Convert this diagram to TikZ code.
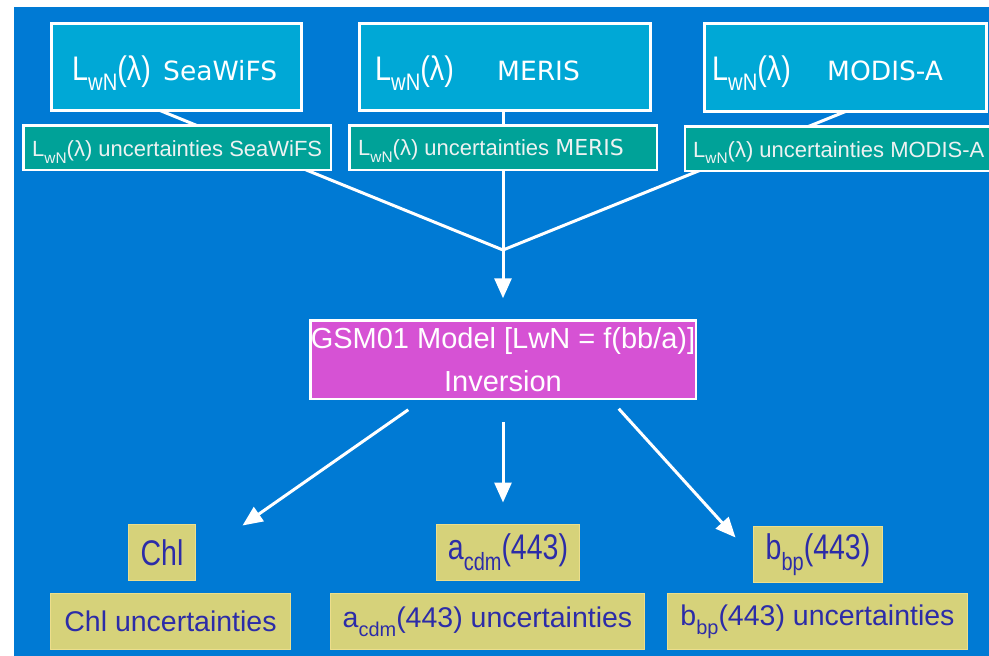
\documentclass[tikz,border=0pt]{standalone}
\usepackage{fontspec}
\usepackage{graphicx}
\setmainfont{Liberation Sans}
\newfontfamily\dvs{DejaVu Sans}
\usetikzlibrary{arrows.meta,calc}
\definecolor{bgblue}{RGB}{0,122,212}
\definecolor{topcyan}{RGB}{0,168,214}
\definecolor{uncteal}{RGB}{0,162,152}
\definecolor{gsmmag}{RGB}{214,82,212}
\definecolor{ybox}{RGB}{214,210,122}
\definecolor{yedge}{RGB}{236,222,140}
\definecolor{ytext}{RGB}{44,44,168}
\definecolor{unctext}{RGB}{238,242,242}
\pgfdeclarelayer{bgl}
\pgfdeclarelayer{lines}
\pgfsetlayers{bgl,lines,main}
\newcommand\sbs[1]{\raisebox{-0.3em}{\scalebox{0.7}{#1}}}
\newcommand\Lwn{L\sbs{wN}(λ)}
\begin{document}
\begin{tikzpicture}[x=1pt,y=-1pt,
  topbox/.style={draw=white,line width=3pt,fill=topcyan,inner sep=0pt,outer sep=0pt},
  uncbox/.style={draw=white,line width=2.5pt,fill=uncteal,inner sep=0pt,outer sep=0pt},
  toptext/.style={text=white,inner sep=0pt,anchor=base west,font=\fontsize{31}{36}\selectfont},
  topname/.style={text=white,inner sep=0pt,anchor=base west,font=\dvs\fontsize{26.5}{32}\selectfont},
  unctext/.style={text=unctext,inner sep=0pt,anchor=base west,font=\fontsize{22}{26}\selectfont},
  gsmbox/.style={draw=white,line width=2.5pt,fill=gsmmag,inner sep=0pt,outer sep=0pt,text=white,align=center,font=\fontsize{29}{43}\selectfont},
  ybx/.style={draw=yedge,line width=1pt,fill=ybox,inner sep=0pt,outer sep=0pt,text=ytext,font=\fontsize{28.5}{34}\selectfont},
  conn/.style={draw=white,line width=3pt},
  arr/.style={draw=white,line width=3pt,-{Triangle[length=20pt,width=17pt]}}]
\clip (0,0) rectangle (989,656);
\begin{pgfonlayer}{bgl}
  \fill[white] (0,0) rectangle (989,656);
  \fill[bgblue] (14,7) rectangle (989,656);
\end{pgfonlayer}

% top boxes
\node[topbox,minimum width=250pt,minimum height=87pt] (sea) at (176.5,67) {};
\node[topbox,minimum width=291pt,minimum height=87pt] (mer) at (505,67) {};
\node[topbox,minimum width=282pt,minimum height=88pt] (mod) at (845.5,67.5) {};
\node[toptext] (seaL) at (72,80) {\scalebox{0.93}[1.1]{\Lwn}};
\node[topname] (seaN) at (163,80) {SeaWiFS};
\node[toptext] (merL) at (375,80) {\scalebox{0.93}[1.1]{\Lwn}};
\node[topname] (merN) at (497,80) {MERIS};
\node[toptext] (modL) at (712,80) {\scalebox{0.93}[1.1]{\Lwn}};
\node[topname] (modN) at (827,80) {MODIS-A};

% uncertainty boxes
\node[uncbox,minimum width=307.5pt,minimum height=44.5pt] (usea) at (177,147.5) {};
\node[uncbox,minimum width=307.5pt,minimum height=44.5pt] (umer) at (503,147.5) {};
\node[uncbox,minimum width=320pt,minimum height=44.5pt] (umod) at (845,148.5) {};
\node[unctext] (useaT) at (32,156.5) {\Lwn{} uncertainties SeaWiFS};
\node[unctext] (umerT) at (358,155.5) {\Lwn{} uncertainties {\dvs MERIS}};
\node[unctext] (umodT) at (693,157) {\Lwn{} uncertainties MODIS-A};

% model box
\node[gsmbox,minimum width=385.5pt,minimum height=78.5pt] (gsm) at (503,359.5) {GSM01 Model [LwN = f(bb/a)]\\Inversion};

% output boxes
\node[ybx,minimum width=67pt,minimum height=56pt] (chl) at (162,552.5) {\scalebox{1}[1.25]{Chl}};
\node[ybx,minimum width=240pt,minimum height=56pt] (chlu) at (170.5,621.5) {Chl uncertainties};
\node[ybx,minimum width=143pt,minimum height=56pt] (acdm) at (508,552.5) {\scalebox{1}[1.25]{a\sbs{cdm}(443)}};
\node[ybx,minimum width=314pt,minimum height=56pt] (acdmu) at (487.5,621.5) {a\sbs{cdm}(443) uncertainties};
\node[ybx,minimum width=129pt,minimum height=56pt] (bbp) at (818,554.5) {\scalebox{1}[1.25]{b\sbs{bp}(443)}};
\node[ybx,minimum width=300pt,minimum height=56pt] (bbpu) at (817.5,621.5) {b\sbs{bp}(443) uncertainties};

% connectors
\begin{pgfonlayer}{lines}
  \coordinate (m) at (503,250);
  \draw[conn] ([xshift=-16.5pt]sea.south) -- (m);
  \draw[conn] (mer.south -| m) -- (m);
  \draw[conn] (mod.south) -- (m);
  \draw[arr] (m) -- ([yshift=22pt]gsm.north);
\end{pgfonlayer}
\draw[arr] ([shift={(98,11)}]gsm.south west) -- ([shift={(47,1)}]chl.north east);
\draw[arr] ([shift={(0,23)}]gsm.south) -- ([shift={(-5,-22)}]acdm.north);
\draw[arr] ([shift={(-77,10)}]gsm.south east) -- ([shift={(-18,11)}]bbp.north west);
\end{tikzpicture}
\end{document}
